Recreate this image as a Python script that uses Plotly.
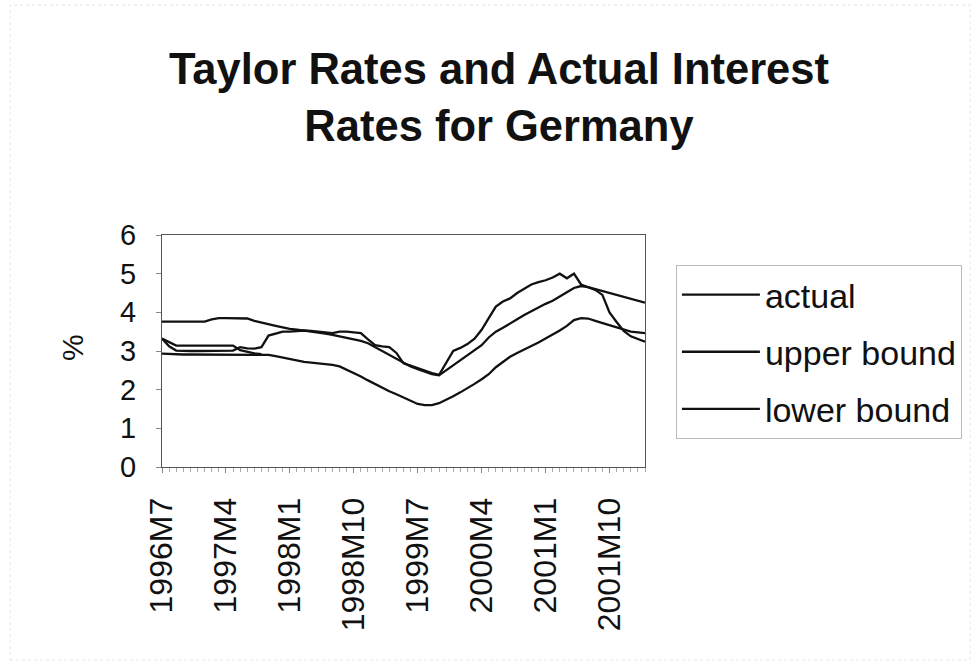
import plotly.graph_objects as go

# Monthly categories 1996M7 .. 2002M3
months = []
y, m = 1996, 7
while (y, m) <= (2002, 3):
    months.append(f"{y}M{m}")
    m += 1
    if m > 12:
        y, m = y + 1, 1

tick_labels = ["1996M7", "1997M4", "1998M1", "1998M10", "1999M7", "2000M4", "2001M1", "2001M10"]

actual = [3.32, 3.12, 3.01, 3.00, 3.00, 3.00, 3.00, 3.00, 3.00, 3.00,
          3.01, 3.10, 3.07, 3.06, 3.10, 3.40, 3.46, 3.50, 3.50, 3.52,
          3.53, 3.52, 3.50, 3.47, 3.46, 3.50, 3.50, 3.48, 3.46, 3.30,
          3.15, 3.12, 3.10, 2.95, 2.68, 2.62, 2.55, 2.50, 2.43, 2.38,
          2.70, 3.00, 3.08, 3.18, 3.32, 3.55, 3.85, 4.15, 4.28, 4.36,
          4.50, 4.62, 4.72, 4.78, 4.83, 4.90, 5.00, 4.88, 5.00, 4.72,
          4.65, 4.58, 4.45, 4.00, 3.75, 3.52, 3.38, 3.30, 3.24]

upper_bound = [3.76, 3.76, 3.76, 3.76, 3.76, 3.76, 3.76, 3.82, 3.85, 3.85,
               3.85, 3.85, 3.84, 3.78, 3.73, 3.69, 3.65, 3.61, 3.57, 3.55,
               3.53, 3.50, 3.48, 3.45, 3.42, 3.38, 3.34, 3.30, 3.26, 3.20,
               3.10, 3.00, 2.90, 2.80, 2.70, 2.60, 2.53, 2.46, 2.40, 2.37,
               2.50, 2.62, 2.75, 2.88, 3.00, 3.15, 3.35, 3.50, 3.60, 3.70,
               3.82, 3.93, 4.03, 4.13, 4.22, 4.30, 4.40, 4.52, 4.63, 4.68,
               4.65, 4.60, 4.55, 4.50, 4.45, 4.40, 4.35, 4.30, 4.25]

lower_bound = [2.93, 2.92, 2.91, 2.91, 2.91, 2.91, 2.91, 2.91, 2.91, 2.91,
               2.91, 2.91, 2.91, 2.91, 2.91, 2.90, 2.87, 2.83, 2.79, 2.76,
               2.72, 2.70, 2.68, 2.66, 2.64, 2.60, 2.52, 2.44, 2.34, 2.24,
               2.14, 2.05, 1.96, 1.88, 1.79, 1.70, 1.63, 1.60, 1.60, 1.65,
               1.73, 1.83, 1.93, 2.03, 2.15, 2.27, 2.40, 2.58, 2.72, 2.85,
               2.95, 3.05, 3.13, 3.22, 3.32, 3.42, 3.53, 3.65, 3.80, 3.85,
               3.84, 3.78, 3.72, 3.66, 3.60, 3.55, 3.50, 3.48, 3.46]

# extra unlabeled series visible only at the start (merges into lower bound)
extra = [3.32, 3.22, 3.14, 3.14, 3.14, 3.14, 3.14, 3.14, 3.14, 3.14,
         3.14, 3.02, 2.97, 2.94, 2.92] + [None] * 54

x = list(range(len(months)))
tickvals = [months.index(t) for t in tick_labels]

FONT = "Arial, Liberation Sans, Helvetica, sans-serif"
LW = 2.3
fig = go.Figure()
fig.add_trace(go.Scatter(x=x, y=extra, mode="lines", showlegend=False, legendgroup="z",
                         line=dict(color="#111", width=LW), hoverinfo="skip"))
fig.add_trace(go.Scatter(x=x, y=actual, mode="lines", name="actual", legendgroup="a",
                         line=dict(color="#111", width=LW)))
fig.add_trace(go.Scatter(x=x, y=upper_bound, mode="lines", name="upper bound", legendgroup="b",
                         line=dict(color="#111", width=LW)))
fig.add_trace(go.Scatter(x=x, y=lower_bound, mode="lines", name="lower bound", legendgroup="c",
                         line=dict(color="#111", width=LW)))

PL, PW, PB, PH = 162, 483, 467, 232

fig.update_layout(
    width=980, height=668,
    margin=dict(l=162, r=335, t=235, b=201),
    paper_bgcolor="white", plot_bgcolor="white",
    font=dict(family=FONT, color="#111"),
    legend=dict(x=1.064, xanchor="left", y=0.871, yanchor="top",
                bordercolor="#bbbbbb", borderwidth=1, bgcolor="white",
                font=dict(size=34, family=FONT, color="#111"),
                itemwidth=78, tracegroupgap=10, traceorder="grouped"),
    xaxis=dict(range=[0, len(months) - 1], tickmode="array", tickvals=tickvals,
               ticktext=tick_labels, tickangle=-90, ticks="outside", ticklen=5,
               tickcolor="#888", showgrid=False, zeroline=False,
               showline=True, linecolor="#555", linewidth=1, mirror=True,
               tickfont=dict(size=32, family=FONT, color="#111"),
               minor=dict(dtick=1, ticks="outside", ticklen=4, tickcolor="#aaa", showgrid=False),
               ticklabelstandoff=12),
    yaxis=dict(range=[0, 6], dtick=1, ticks="outside", ticklen=5, tickcolor="#888",
               showgrid=False, zeroline=False, showline=True, linecolor="#555",
               linewidth=1, mirror=True,
               tickfont=dict(size=29, family=FONT, color="#111"),
               ticklabelstandoff=14),
    annotations=[
        dict(text="<b>Taylor Rates and Actual Interest<br>Rates for Germany</b>",
             xref="paper", yref="paper", x=(499 - PL) / PW, y=(PB - 97) / PH,
             showarrow=False, xanchor="center", yanchor="middle", align="center",
             font=dict(size=43.5, family=FONT, color="#111")),
        dict(text="%", xref="paper", yref="paper", x=(72 - PL) / PW, y=(PB - 348) / PH,
             showarrow=False, textangle=-90, font=dict(size=30, family=FONT, color="#111"),
             xanchor="center", yanchor="middle")],
    shapes=[dict(type="rect", xref="paper", yref="paper",
                 x0=(10 - PL) / PW, x1=(970 - PL) / PW,
                 y0=(PB - 660) / PH, y1=(PB - 5) / PH,
                 line=dict(color="#e4e4e4", width=1, dash="dot"), layer="below")],
)

fig.write_html("out.html")
